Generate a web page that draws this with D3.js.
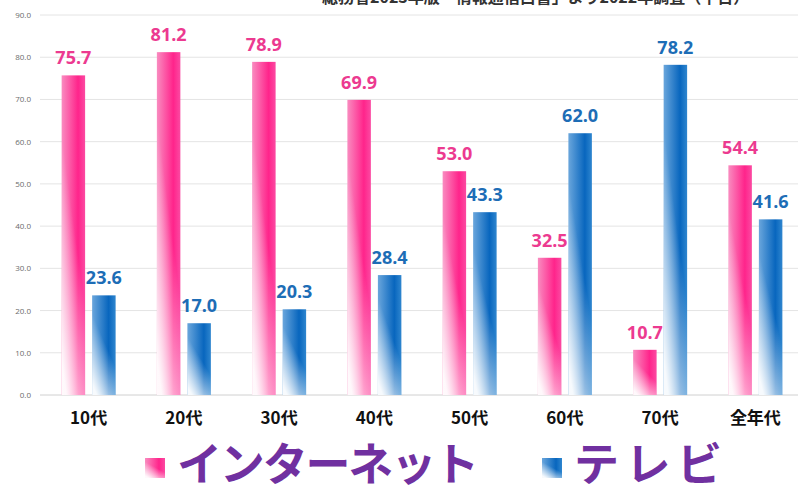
<!DOCTYPE html>
<html>
<head>
<meta charset="utf-8">
<script src="https://cdn.jsdelivr.net/npm/d3@7"></script>
<style>
  body { margin: 0; background: #fff; }
  svg { display: block; }
</style>
</head>
<body>
<script>
const categories = ["10代", "20代", "30代", "40代", "50代", "60代", "70代", "全年代"];
const internet = [75.7, 81.2, 78.9, 69.9, 53.0, 32.5, 10.7, 54.4];
const tv = [23.6, 17.0, 20.3, 28.4, 43.3, 62.0, 78.2, 41.6];
const yTicks = [0, 10, 20, 30, 40, 50, 60, 70, 80, 90];
const seriesNames = ["インターネット", "テレビ"];
const sourceNote = "総務省2023年版「情報通信白書」より2022年調査（平日）";

const width = 798, height = 486;

const svg = d3.select("body").append("svg")
  .attr("width", width)
  .attr("height", height);

const defs = svg.append("defs");

// bar fills: strong colour on the right, lighter left edge, fading to white at the bottom
function makeGrad(id, light, mid, dark){
  let g = defs.append("linearGradient").attr("id", id)
    .attr("x1", 0).attr("y1", 0).attr("x2", 1).attr("y2", 0);
  g.append("stop").attr("offset", 0).attr("stop-color", light);
  g.append("stop").attr("offset", 0.7).attr("stop-color", dark);
  g.append("stop").attr("offset", 1).attr("stop-color", mid);
}
makeGrad("g-net", "#f98cc0", "#fb4aa2", "#ff248b");
makeGrad("g-tv", "#6aa6dc", "#2f86cf", "#0866be");

let fade = defs.append("linearGradient").attr("id", "g-fade")
  .attr("x1", 0.2).attr("y1", 1).attr("x2", 0.5).attr("y2", 0.45);
fade.append("stop").attr("offset", 0).attr("stop-color", "#fff").attr("stop-opacity", 0.95);
fade.append("stop").attr("offset", 1).attr("stop-color", "#fff").attr("stop-opacity", 0);

const x = d3.scaleBand().domain(categories).range([41, 803]);
const inner = d3.scaleBand().domain(["net", "tv"]).range([-27, 27]).paddingInner(0.23);
const y = d3.scaleLinear().domain([0, 90]).range([395, 15]);

// source note (cut off at the top of the picture)
svg.append("text")
  .attr("x", 322).attr("y", 3)
  .attr("font-family", "'Noto Sans CJK JP', sans-serif")
  .attr("font-size", 16)
  .attr("font-weight", "bold")
  .attr("fill", "#333")
  .text(sourceNote);

// grid + tick labels
const grid = svg.append("g");
grid.selectAll("line")
  .data(yTicks)
  .enter()
  .append("line")
  .attr("x1", 40).attr("x2", 798)
  .attr("y1", d => y(d)).attr("y2", d => y(d))
  .attr("stroke", d => d == 0 ? "#d0d0d0" : "#e4e4e4")
  .attr("stroke-width", 1);

grid.selectAll("text")
  .data(yTicks)
  .enter()
  .append("text")
  .attr("x", 31)
  .attr("y", d => y(d) + 3)
  .attr("text-anchor", "end")
  .attr("font-family", "'Open Sans', sans-serif")
  .attr("font-size", 8)
  .attr("fill", "#6b6b6b")
  .text(d => d.toFixed(1));

const series = [
  {key: "net", values: internet, fill: "url(#g-net)", label: "#ec3a90"},
  {key: "tv", values: tv, fill: "url(#g-tv)", label: "#1d6db6"}
];

series.forEach(s => {
  let g = svg.append("g").attr("class", "series-" + s.key);
  let bx = (d, i) => x(categories[i]) + x.bandwidth() / 2 + inner(s.key);

  g.selectAll(".bar")
    .data(s.values)
    .enter()
    .append("rect")
    .attr("class", "bar")
    .attr("x", bx)
    .attr("y", d => y(d))
    .attr("width", inner.bandwidth())
    .attr("height", d => y(0) - y(d))
    .attr("fill", s.fill);

  g.selectAll(".fade")
    .data(s.values)
    .enter()
    .append("rect")
    .attr("class", "fade")
    .attr("x", bx)
    .attr("y", d => y(d))
    .attr("width", inner.bandwidth())
    .attr("height", d => y(0) - y(d))
    .attr("fill", "url(#g-fade)");

  g.selectAll(".val")
    .data(s.values)
    .enter()
    .append("text")
    .attr("class", "val")
    .attr("x", (d, i) => bx(d, i) + inner.bandwidth() / 2)
    .attr("y", d => y(d) - 11)
    .attr("text-anchor", "middle")
    .attr("font-family", "'Open Sans', sans-serif")
    .attr("font-weight", "bold")
    .attr("font-size", 18)
    .attr("fill", s.label)
    .text(d => d.toFixed(1));
});

// category labels
svg.append("g").selectAll("text")
  .data(categories)
  .enter()
  .append("text")
  .attr("x", d => x(d) + x.bandwidth() / 2)
  .attr("y", 424)
  .attr("text-anchor", "middle")
  .attr("font-family", "'Noto Sans CJK JP', sans-serif")
  .attr("font-weight", "bold")
  .attr("font-size", 17)
  .attr("fill", "#111")
  .text(d => d);

// legend
const legendItems = [
  {name: seriesNames[0], fill: "url(#g-net)", sx: 145, tx: 177, len: 302},
  {name: seriesNames[1], fill: "url(#g-tv)", sx: 542, tx: 574, len: 148}
];
const legend = svg.append("g");
legendItems.forEach(l => {
  legend.append("rect")
    .attr("x", l.sx).attr("y", 458)
    .attr("width", 20).attr("height", 20)
    .attr("fill", l.fill);
  legend.append("rect")
    .attr("x", l.sx).attr("y", 458)
    .attr("width", 20).attr("height", 20)
    .attr("fill", "url(#g-fade)");
  legend.append("text")
    .attr("x", l.tx).attr("y", 481)
    .attr("font-family", "'Noto Sans CJK JP', sans-serif")
    .attr("font-weight", "bold")
    .attr("font-size", 45)
    .attr("textLength", l.len)
    .attr("lengthAdjust", "spacing")
    .attr("fill", "#7030a0")
    .text(l.name);
});
</script>
</body>
</html>
